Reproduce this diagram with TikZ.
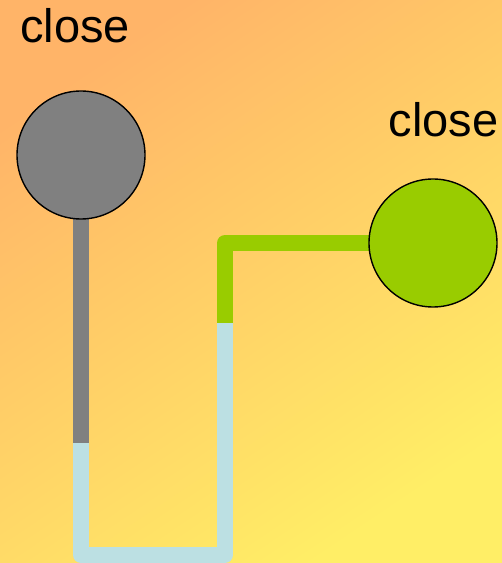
\documentclass[tikz,border=0pt]{standalone}
\usepackage{fontspec}
\setmainfont{Liberation Sans}
\definecolor{bgA}{HTML}{FFB468}
\definecolor{bgM}{HTML}{FFD260}
\definecolor{bgB}{HTML}{FFEE66}
\definecolor{pipeblue}{HTML}{BCE0E3}
\definecolor{pipegray}{HTML}{808080}
\definecolor{pipegreen}{HTML}{99CC00}
\tikzset{
  valve/.style={circle, draw=black, line width=1.4pt, minimum size=128pt, inner sep=0pt},
  pipe/.style={line width=16pt, line join=round},
  lbl/.style={font=\fontsize{47}{47}\selectfont, anchor=base, inner sep=0pt}
}
\begin{document}
\begin{tikzpicture}[x=1pt,y=1pt]
\useasboundingbox (0,0) rectangle (502,563);
\shade[top color=bgA, middle color=bgM, bottom color=bgB, shading angle=34] (0,0) rectangle (502,563);
\coordinate (g1) at (81,408);
\coordinate (g2) at (81,120);
\coordinate (b1) at (81,8);
\coordinate (b2) at (225,8);
\coordinate (b3) at (225,240);
\coordinate (r1) at (225,320);
\coordinate (r2) at (433,320);
\draw[pipe, pipegray] (g1) -- (g2);
\draw[pipe, pipeblue] (g2) -- (b1) -- (b2) -- (b3);
\draw[pipe, pipegreen] (b3) -- (r1) -- (r2);
\node[valve, fill=pipegray] (gv) at (g1) {};
\node[valve, fill=pipegreen] (rv) at (r2) {};
\node[lbl] (t1) at (75,520) {close};
\node[lbl] (t2) at (443.5,426) {close};
\end{tikzpicture}
\end{document}
